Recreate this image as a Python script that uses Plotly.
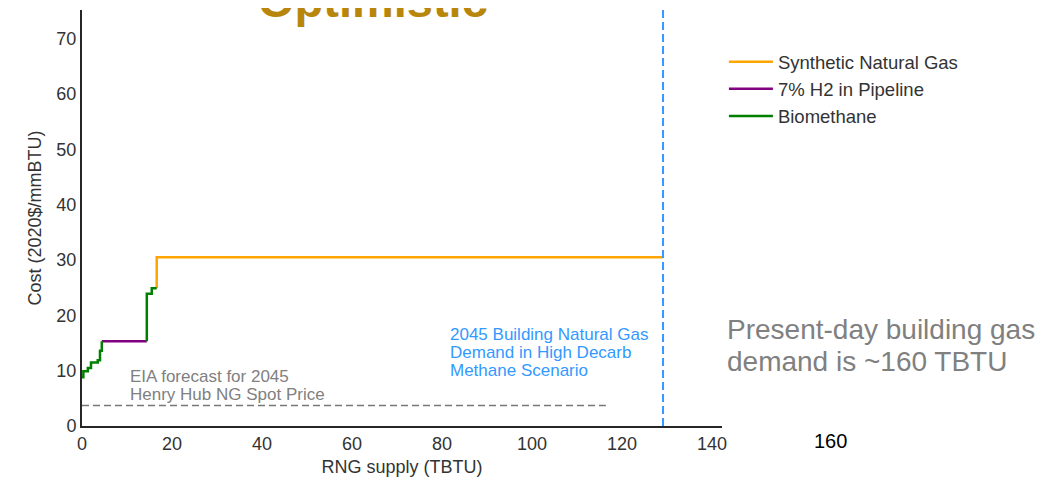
import plotly.graph_objects as go

# supply curve steps (cumulative TBTU, $/mmBTU), drawn with hv steps
bio_x1 = [0, 0.3, 1.3, 2.0, 3.5, 4.0, 4.4]
bio_y1 = [8.8, 9.9, 10.5, 11.5, 11.9, 13.6, 15.3]
h2_x = [4.4, 14.4]
h2_y = [15.3, 15.3]
bio_x2 = [14.4, 14.4, 15.5, 16.6]
bio_y2 = [15.3, 23.9, 24.9, 24.9]
sng_x = [16.6, 16.6, 129.1]
sng_y = [24.9, 30.5, 30.5]

henry_hub_x = [0, 116.4]
henry_hub_y = [3.7, 3.7]
demand_2045 = 129.1

x_ticks = [0, 20, 40, 60, 80, 100, 120, 140]
y_ticks = [0, 10, 20, 30, 40, 50, 60, 70]

eia_lines = ["EIA forecast for 2045", "Henry Hub NG Spot Price"]
demand_lines = ["2045 Building Natural Gas", "Demand in High Decarb", "Methane Scenario"]
present_lines = ["Present-day building gas", "demand is ~160 TBTU"]

FONT = "Liberation Sans, Arial, sans-serif"
TXT = "#333333"

fig = go.Figure()

fig.add_trace(go.Scatter(x=sng_x, y=sng_y, mode="lines", line_shape="hv",
                         line=dict(color="#FFA500", width=2.5),
                         name="Synthetic Natural Gas", legendgroup="a"))
fig.add_trace(go.Scatter(x=h2_x, y=h2_y, mode="lines", line_shape="hv",
                         line=dict(color="#800080", width=2.5),
                         name="7% H2 in Pipeline", legendgroup="b"))
fig.add_trace(go.Scatter(x=bio_x1 + [None] + bio_x2, y=bio_y1 + [None] + bio_y2,
                         mode="lines", line_shape="hv", connectgaps=False,
                         line=dict(color="#008000", width=2.5),
                         name="Biomethane", legendgroup="c"))
fig.add_trace(go.Scatter(x=henry_hub_x, y=henry_hub_y, mode="lines",
                         line=dict(color="#777777", width=1.5, dash="7px,4px"),
                         showlegend=False, hoverinfo="skip"))
fig.add_trace(go.Scatter(x=[demand_2045, demand_2045], y=[0, 75.2], mode="lines",
                         line=dict(color="#3399FF", width=2, dash="8px,4px"),
                         showlegend=False, hoverinfo="skip"))

# multi-line labels, one annotation per line to keep matplotlib-like spacing
for i, t in enumerate(eia_lines):
    fig.add_annotation(x=10.2, y=8.9 - i * 3.25, xref="x", yref="y", xanchor="left",
                       yanchor="middle", text=t, showarrow=False,
                       font=dict(size=17, color="#808080"))
for i, t in enumerate(demand_lines):
    fig.add_annotation(x=81.3, y=16.6 - i * 3.25, xref="x", yref="y", xanchor="left",
                       yanchor="middle", text=t, showarrow=False,
                       font=dict(size=17, color="#3399FF"))
for i, t in enumerate(present_lines):
    fig.add_annotation(x=1.005, y=0.233 - i * 0.077, xref="paper", yref="paper",
                       xanchor="left", yanchor="middle", text=t, showarrow=False,
                       font=dict(size=28, color="#808080"))
fig.add_annotation(x=1.169, y=-0.035, xref="paper", yref="paper", xanchor="center", yanchor="middle",
                   text="160", showarrow=False, font=dict(size=20, color="#000000"))
fig.add_annotation(x=0.455, y=0.955, xref="paper", yref="paper", xanchor="center", yanchor="bottom",
                   text="<b>Optimistic</b>", showarrow=False,
                   font=dict(size=47, color="#B8860B"))

# page body has an 8px margin, so the figure is 8px smaller and margins shifted
fig.update_layout(
    width=1050, height=469,
    font=dict(family=FONT, color=TXT),
    plot_bgcolor="white", paper_bgcolor="white",
    margin=dict(l=74, r=336, t=2, b=51),
    xaxis=dict(range=[0, 142.2], tickvals=x_ticks, showgrid=False, zeroline=False,
               showline=True, linecolor="#262626", linewidth=2, ticks="",
               tickfont=dict(size=18, color=TXT),
               title=dict(text="RNG supply (TBTU)", font=dict(size=18, color=TXT), standoff=10)),
    yaxis=dict(range=[0, 75.2], tickvals=y_ticks, showgrid=False, zeroline=False,
               showline=True, linecolor="#262626", linewidth=2, ticks="",
               tickfont=dict(size=18, color=TXT),
               title=dict(text="Cost (2020$/mmBTU)", font=dict(size=18, color=TXT), standoff=10)),
    legend=dict(x=1.003, y=0.92, xanchor="left", yanchor="top", bgcolor="rgba(0,0,0,0)",
                font=dict(size=18.5, color=TXT), tracegroupgap=0, traceorder="grouped",
                itemwidth=44),
    showlegend=True,
)

fig.write_html("out.html")
